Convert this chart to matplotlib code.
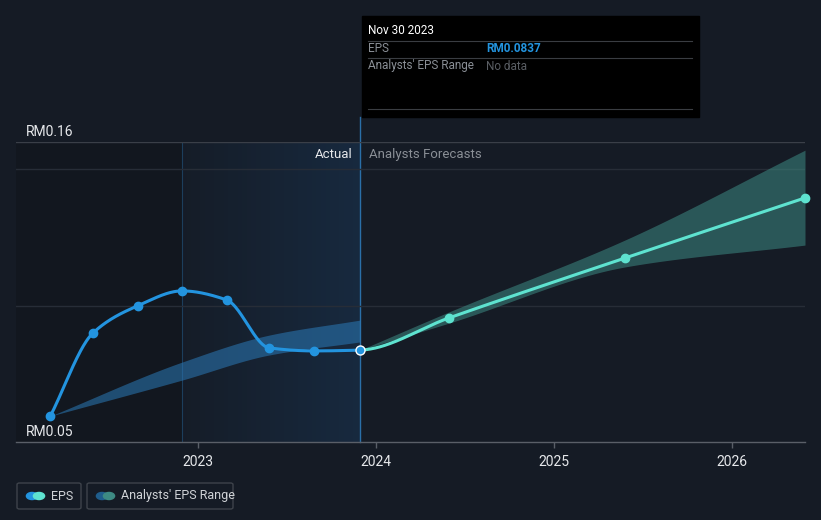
import numpy as np
import matplotlib
matplotlib.use("Agg")
import matplotlib.pyplot as plt
from matplotlib.patches import FancyBboxPatch, Rectangle, Circle

plt.rcParams['font.family'] = ['Roboto', 'DejaVu Sans']

# data (decimal years, EPS in RM)
actual_x = [2022.17, 2022.41, 2022.66, 2022.91, 2023.16, 2023.40, 2023.65, 2023.91]
actual_eps = [0.0595, 0.0900, 0.0999, 0.1054, 0.1021, 0.0845, 0.0834, 0.0837]

past_range_x = [2022.17, 2022.91, 2023.40, 2023.91]
past_range_lo = [0.0595, 0.0727, 0.0819, 0.0867]
past_range_hi = [0.0595, 0.0793, 0.0892, 0.0947]

fc_x = [2023.91, 2024.41, 2025.40, 2026.41]
fc_eps = [0.0837, 0.0955, 0.1175, 0.1395]
fc_lo = [0.0837, 0.0936, 0.1142, 0.1222]
fc_hi = [0.0837, 0.0977, 0.1241, 0.1570]

year_ticks = [2023, 2024, 2025, 2026]

BG = "#151b25"
BLUE = "#2394df"
TEAL = "#5ee3d0"


def pchip(x, y, n=300):
    # monotone cubic curve through the points, only used to draw smooth lines
    x = np.asarray(x, float)
    y = np.asarray(y, float)
    h = np.diff(x)
    d = np.diff(y) / h
    m = np.zeros_like(y)
    for k in range(1, len(y) - 1):
        if d[k - 1] * d[k] > 0:
            w1 = 2 * h[k] + h[k - 1]
            w2 = h[k] + 2 * h[k - 1]
            m[k] = (w1 + w2) / (w1 / d[k - 1] + w2 / d[k])
    m[0] = d[0]
    m[-1] = d[-1]
    xs = np.linspace(x[0], x[-1], n)
    idx = np.clip(np.searchsorted(x, xs) - 1, 0, len(x) - 2)
    t = (xs - x[idx]) / h[idx]
    h00 = 2 * t**3 - 3 * t**2 + 1
    h10 = t**3 - 2 * t**2 + t
    h01 = -2 * t**3 + 3 * t**2
    h11 = t**3 - t**2
    ys = h00 * y[idx] + h10 * h[idx] * m[idx] + h01 * y[idx + 1] + h11 * h[idx] * m[idx + 1]
    return xs, ys


fig = plt.figure(figsize=(8.21, 5.2), dpi=100)
fig.patch.set_facecolor(BG)
ax = fig.add_axes([16 / 821, 1 - 442 / 520, 789 / 821, 300 / 520])
ax.set_facecolor(BG)
x0, x1 = 2021.977, 2026.41
ax.set_xlim(x0, x1)
ax.set_ylim(0.05, 0.16)

# past (darker) region and highlighted "actual" region
ax.axvspan(x0, 2022.91, color="#10141a", alpha=0.5, lw=0, zorder=0)
grad = np.zeros((2, 256, 4))
grad[..., 0] = 0.14
grad[..., 1] = 0.45
grad[..., 2] = 0.75
grad[..., 3] = np.linspace(0.02, 0.17, 256)[None, :]
ax.imshow(grad, extent=[2022.91, 2023.91, 0.05, 0.16], aspect="auto", zorder=0.5,
          interpolation="bilinear")
ax.axvline(2022.91, color="#1f4d73", lw=0.8, alpha=0.7, zorder=1)
ax.axvline(2023.91, ymin=0, ymax=325 / 300, color="#2a6fa8", lw=1, zorder=1, clip_on=False)

# gridlines
for gy, c in [(0.16, "#3a3f48"), (0.15, "#272d37"), (0.10, "#272d37")]:
    ax.axhline(gy, color=c, lw=1, zorder=1)

# bands
px, plo = pchip(past_range_x, past_range_lo)
_, phi = pchip(past_range_x, past_range_hi)
ax.fill_between(px, plo, phi, color="#2b7ab8", alpha=0.55, lw=0, zorder=2)
fx, flo = pchip(fc_x, fc_lo)
_, fhi = pchip(fc_x, fc_hi)
ax.fill_between(fx, flo, fhi, color="#3d8a83", alpha=0.55, lw=0, zorder=2)

# one smooth curve through actual + forecast, split at the last actual point
all_x = actual_x + fc_x[1:]
all_y = actual_eps + fc_eps[1:]
cx, cy = pchip(all_x, all_y, n=800)
split = actual_x[-1]
ax.plot(cx[cx <= split], cy[cx <= split], color=BLUE, lw=2.2, zorder=3, solid_capstyle="round")
ax.plot(cx[cx >= split - 0.005], cy[cx >= split - 0.005], color=TEAL, lw=2.2, zorder=3)
ax.plot(actual_x[:-1], actual_eps[:-1], "o", color=BLUE, ms=6, zorder=4)
ax.plot(fc_x[1:], fc_eps[1:], "o", color=TEAL, ms=6, zorder=4, clip_on=False)
ax.plot(actual_x[-1], actual_eps[-1], "o", color=BLUE, ms=6.5, mec="white", mew=1, zorder=5)

# axes styling
for s in ["top", "right", "left"]:
    ax.spines[s].set_visible(False)
ax.spines["bottom"].set_color("#5a5f68")
ax.spines["bottom"].set_linewidth(1)
ax.set_yticks([])
ax.set_xticks(year_ticks)
ax.set_xticklabels([str(y) for y in year_ticks])
ax.tick_params(axis="x", colors="#5a5f68", length=4, width=1, labelcolor="#e6e8eb",
               labelsize=10, pad=5)

ax.text(2022.03, 0.1612, "RM0.16", color="#e6e8eb", fontsize=10, va="bottom")
ax.text(2022.03, 0.0512, "RM0.05", color="#e6e8eb", fontsize=10, va="bottom")
ax.text(2023.87, 0.1555, "Actual", color="#e6e8eb", fontsize=9.5, ha="right", va="center")
ax.text(2023.96, 0.1555, "Analysts Forecasts", color="#8a8f96", fontsize=9.5, ha="left", va="center")

# tooltip
fig.patches.append(Rectangle((362 / 821, 1 - 117 / 520), 337 / 821, 101 / 520,
                             transform=fig.transFigure, color="black", zorder=10))
for ly in [41, 58, 109]:
    fig.add_artist(plt.Line2D([368 / 821, 692 / 821], [1 - ly / 520] * 2,
                              color="#3a3d42", lw=0.8, zorder=11))
fig.text(368 / 821, 1 - 31 / 520, "Nov 30 2023", color="white", fontsize=8.5, va="center", zorder=12)
fig.text(368 / 821, 1 - 49 / 520, "EPS", color="#8a8f96", fontsize=8.5, va="center", zorder=12)
fig.text(486 / 821, 1 - 49 / 520, "RM0.0837", color=BLUE, fontsize=8.5, va="center",
         fontweight="bold", zorder=12)
fig.text(368 / 821, 1 - 66 / 520, "Analysts' EPS Range", color="#8a8f96", fontsize=8.5,
         va="center", zorder=12)
fig.text(486 / 821, 1 - 66 / 520, "No data", color="#5a5e64", fontsize=8.5, va="center", zorder=12)

# legend
for (bx, bw, label, c1, c2) in [(17, 64, "EPS", BLUE, TEAL),
                                (87, 146, "Analysts' EPS Range", "#1f5d8c", "#3d8a83")]:
    fig.patches.append(FancyBboxPatch((bx / 821, 1 - 509 / 520), bw / 821, 26 / 520,
                                      boxstyle="round,pad=0,rounding_size=0.003",
                                      transform=fig.transFigure, fc="none",
                                      ec="#3e434b", lw=1))
    ly = 1 - 496 / 520
    fig.patches.append(Circle(((bx + 15) / 821, ly), 0.0068, transform=fig.transFigure,
                              color=c1))
    fig.patches.append(Circle(((bx + 22) / 821, ly), 0.0068, transform=fig.transFigure,
                              color=c2))
    fig.text((bx + 34) / 821, ly, label, color="#d0d3d7", fontsize=9, va="center")

fig.savefig("out.png", dpi=100, facecolor=BG)
